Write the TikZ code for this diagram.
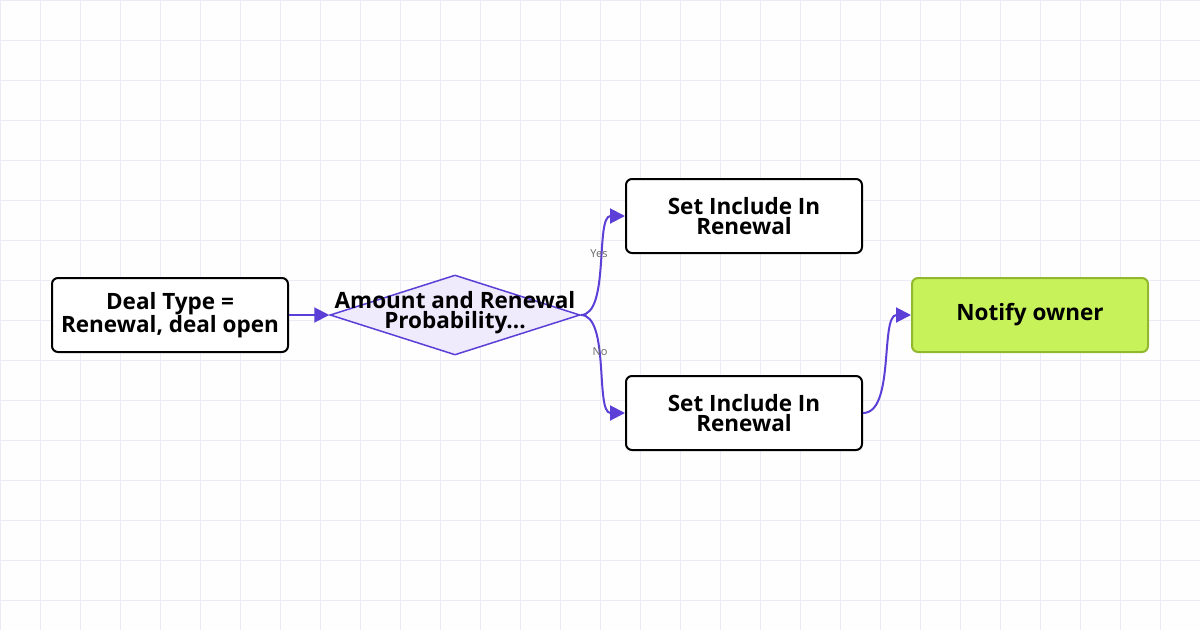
\documentclass[tikz,border=0pt]{standalone}
\usepackage{fontspec}
\setmainfont{Open Sans}[BoldFont={Open Sans Bold}]
\usetikzlibrary{shapes.geometric,arrows.meta}
\definecolor{edge}{HTML}{5B3FD6}
\definecolor{grid}{HTML}{ECEAF6}
\definecolor{lav}{HTML}{EFEAFC}
\definecolor{lime}{HTML}{C8F25A}
\definecolor{limeb}{HTML}{92B830}
\begin{document}
\begin{tikzpicture}[x=1pt,y=-1pt,
 box/.style={draw=black,line width=2pt,rounded corners=6pt,fill=white,minimum width=236pt,minimum height=74pt,align=center,font=\fontsize{22.5}{20}\selectfont\bfseries,inner sep=0pt},
 conn/.style={draw=edge,line width=2pt,-{Triangle[length=15pt,width=15pt]}},
 lab/.style={font=\fontsize{11}{11}\selectfont,text=gray!80!black,fill=none}]
\fill[white!97!lav] (0,0) rectangle (1200,630);
\useasboundingbox (0,0) rectangle (1200,630);
\foreach \x in {0,40,...,1200} \draw[grid,line width=0.8pt] (\x,0) -- (\x,630);
\foreach \y in {0,40,...,630} \draw[grid,line width=0.8pt] (0,\y) -- (1200,\y);
\node[box] (a) at (170,315) {Deal Type =\\Renewal, deal open};
\node[diamond,draw=edge,fill=lav,line width=1.5pt,minimum width=250pt,minimum height=80pt,aspect=3.1,inner sep=0pt] (d) at (455,315) {};
\node[align=center,font=\fontsize{22.5}{20}\selectfont\bfseries] (dt) at (455,313) {Amount and Renewal\\Probability...};
\node[box] (b1) at (744,216) {Set Include In\\Renewal};
\node[box] (b2) at (744,413) {Set Include In\\Renewal};
\node[box,draw=limeb,fill=lime] (c) at (1030,315) {Notify owner};
\draw[conn] (a.east) -- (d.west);
\draw[conn] (d.east) .. controls (610,315) and (595,216) .. (b1.west);
\draw[conn] (d.east) .. controls (610,315) and (595,413) .. (b2.west);
\draw[conn] (b2.east) .. controls (895,413) and (880,315) .. (c.west);
\node[lab] (yes) at (599,254) {Yes};
\node[lab] (no) at (600,352) {No};
\end{tikzpicture}
\end{document}
